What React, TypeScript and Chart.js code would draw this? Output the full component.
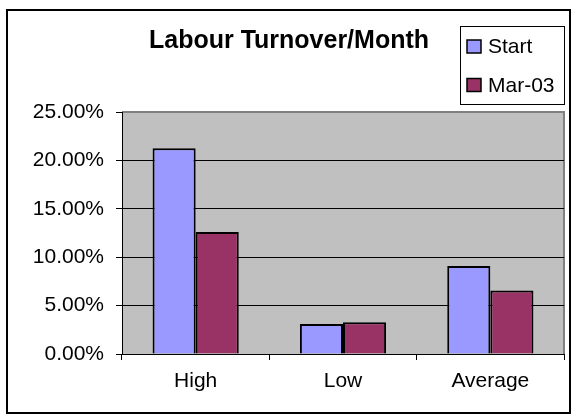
import React, { useEffect, useRef } from "react";
import { Chart, registerables } from "chart.js";

Chart.register(...registerables);

const titleText = "Labour Turnover/Month";
const categories = ["High", "Low", "Average"];
const seriesLabels = ["Start", "Mar-03"];
const startValues = [0.2125, 0.031, 0.091];
const marValues = [0.126, 0.0327, 0.0655];
const seriesColors = ["#9999FF", "#993366"];
const yMax = 0.25;
const yStep = 0.05;

const FONT = "'Liberation Sans', Arial, sans-serif";

const decorPlugin = {
  id: "decor",
  beforeDraw(chart: any) {
    const { ctx, chartArea } = chart;
    ctx.save();
    ctx.fillStyle = "#FFFFFF";
    ctx.fillRect(0, 0, chart.width, chart.height);
    ctx.fillStyle = "#C0C0C0";
    ctx.fillRect(chartArea.left, chartArea.top, chartArea.right - chartArea.left, chartArea.bottom - chartArea.top);
    ctx.strokeStyle = "#808080";
    ctx.lineWidth = 2;
    ctx.beginPath();
    ctx.moveTo(chartArea.left, chartArea.top);
    ctx.lineTo(chartArea.right, chartArea.top);
    ctx.lineTo(chartArea.right, chartArea.bottom);
    ctx.stroke();
    ctx.restore();
  },
  afterDraw(chart: any) {
    const { ctx } = chart;
    ctx.save();
    // outer border
    ctx.strokeStyle = "#000";
    ctx.lineWidth = 2;
    ctx.strokeRect(7, 10, 563, 403);
    // title
    ctx.fillStyle = "#000";
    ctx.font = `bold 25px ${FONT}`;
    ctx.textAlign = "center";
    ctx.textBaseline = "alphabetic";
    ctx.fillText(titleText, 289, 48);
    // legend
    ctx.lineWidth = 1;
    ctx.strokeStyle = "#000";
    ctx.strokeRect(460.5, 26.5, 104, 78);
    ctx.font = `21px ${FONT}`;
    ctx.textAlign = "left";
    chart.data.datasets.forEach((ds: any, i: number) => {
      const y = 40 + i * 38.5;
      ctx.fillStyle = ds.backgroundColor;
      ctx.fillRect(467, y, 14, 13);
      ctx.strokeStyle = "#000";
      ctx.lineWidth = 1.5;
      ctx.strokeRect(467, y, 14, 13);
      ctx.fillStyle = "#000";
      ctx.fillText(ds.label, 488, y + 13);
    });
    ctx.restore();
  },
};

export default function App() {
  const ref = useRef<HTMLCanvasElement>(null);
  useEffect(() => {
    if (!ref.current) return;
    const chart = new Chart(ref.current, {
      type: "bar",
      data: {
        labels: categories,
        datasets: [
          {
            label: seriesLabels[0],
            data: startValues,
            backgroundColor: seriesColors[0],
            borderColor: "#000",
            borderWidth: 2,
            categoryPercentage: 0.585,
            barPercentage: 1,
          },
          {
            label: seriesLabels[1],
            data: marValues,
            backgroundColor: seriesColors[1],
            borderColor: "#000",
            borderWidth: 2,
            categoryPercentage: 0.585,
            barPercentage: 1,
          },
        ],
      },
      options: {
        responsive: false,
        animation: false,
        devicePixelRatio: 1,
        layout: { padding: { top: 112, right: 8, bottom: 0, left: 0 } },
        plugins: {
          legend: { display: false },
          title: { display: false },
          tooltip: { enabled: false },
        },
        scales: {
          x: {
            afterFit(scale: any) {
              scale.height = 61;
            },
            grid: {
              offset: true,
              drawOnChartArea: false,
              drawTicks: true,
              tickLength: 6,
              color: "#000",
            },
            border: { color: "#000", width: 1 },
            ticks: {
              color: "#000",
              padding: 9,
              font: { family: FONT, size: 21 },
            },
          },
          y: {
            min: 0,
            max: yMax,
            afterFit(scale: any) {
              scale.width = 122;
            },
            ticks: {
              stepSize: yStep,
              color: "#000",
              padding: 12,
              font: { family: FONT, size: 21 },
              callback: (v: any) => (Number(v) * 100).toFixed(2) + "%",
            },
            grid: {
              color: (c: any) =>
                c.tick && Math.abs(c.tick.value - yMax) < 1e-9 ? "#808080" : "#000",
              tickColor: "#000",
              tickLength: 6,
              lineWidth: 1,
            },
            border: { color: "#000", width: 1 },
          },
        },
      },
      plugins: [decorPlugin],
    });
    return () => chart.destroy();
  }, []);
  return (
    <div style={{ position: "absolute", left: 0, top: 0, width: 572, height: 415 }}>
      <canvas ref={ref} width={572} height={415} style={{ display: "block" }} />
    </div>
  );
}
